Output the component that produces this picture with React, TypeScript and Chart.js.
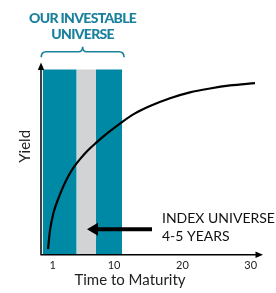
import React, { useEffect, useRef } from "react";
import { Chart, registerables } from "chart.js";

Chart.register(...registerables);

// ---- data ----
const maturityTicks = [1, 10, 20, 30];
const curveMaturity = [0.33, 0.62, 1.1, 1.94, 2.52, 3.25, 4.13, 5.01, 6.18, 7.35, 9.11, 11.11, 13.06, 15.26, 18.19, 21.11, 24.04, 26.97, 30.63];
const curveYield = [2.6, 11.3, 19.0, 26.7, 31.2, 36.0, 40.5, 44.1, 48.2, 51.6, 56.3, 61.1, 65.2, 68.6, 72.2, 74.9, 76.7, 78.1, 79.2];
const investableRange = [-0.45, 11.16];
const indexRange = [4.53, 7.35];
const bandHeight = [85.5];
const titleLines = ["OUR INVESTABLE", "UNIVERSE"];
const indexLabelLines = ["INDEX UNIVERSE", "4-5 YEARS"];
const arrowRange = [6.03, 15.55]; // x values (tip, tail)
const arrowLevel = [11.8];
const xAxisTitle = "Time to Maturity";
const yAxisTitle = "Yield";

const TEAL = "#0089A5";
const TEAL_TEXT = "#1A819C";
const GRAY = "#D1D3D4";
const FONT = "Lato, 'Open Sans', sans-serif";

const band = (x0: number, x1: number, h: number) => [
  { x: x0, y: h },
  { x: x1, y: h },
];

const decorPlugin = {
  id: "decor",
  afterDatasetsDraw(chart: any) {
    const { ctx, chartArea, scales } = chart;
    const xs = scales.x;
    const ys = scales.y;
    ctx.save();
    // axes
    ctx.strokeStyle = "#000";
    ctx.fillStyle = "#000";
    ctx.lineWidth = 1.5;
    const ax = chartArea.left;
    const ay = chartArea.bottom;
    const yTip = ys.getPixelForValue(88.7);
    const xTip = chartArea.right;
    ctx.beginPath();
    ctx.moveTo(ax, ay + 0.5);
    ctx.lineTo(ax, yTip + 5);
    ctx.moveTo(ax - 0.5, ay);
    ctx.lineTo(xTip - 5, ay);
    ctx.stroke();
    ctx.beginPath();
    ctx.moveTo(ax, yTip);
    ctx.lineTo(ax - 3.2, yTip + 7.5);
    ctx.lineTo(ax + 3.2, yTip + 7.5);
    ctx.closePath();
    ctx.fill();
    ctx.beginPath();
    ctx.moveTo(xTip, ay);
    ctx.lineTo(xTip - 7.5, ay - 3.2);
    ctx.lineTo(xTip - 7.5, ay + 3.2);
    ctx.closePath();
    ctx.fill();

    // x axis title
    ctx.font = `15px ${FONT}`;
    ctx.fillStyle = "#222";
    ctx.textAlign = "center";
    ctx.textBaseline = "middle";
    ctx.fillText(xAxisTitle, ax + 89, ay + 25);

    // left arrow
    const aTip = xs.getPixelForValue(arrowRange[0]);
    const aTail = xs.getPixelForValue(arrowRange[1]);
    const aY = ys.getPixelForValue(arrowLevel[0]);
    ctx.fillStyle = "#000";
    ctx.lineWidth = 4;
    ctx.beginPath();
    ctx.moveTo(aTip + 8, aY);
    ctx.lineTo(aTail, aY);
    ctx.stroke();
    ctx.beginPath();
    ctx.moveTo(aTip, aY);
    ctx.lineTo(aTip + 11, aY - 6.5);
    ctx.lineTo(aTip + 11, aY + 6.5);
    ctx.closePath();
    ctx.fill();

    // index label
    ctx.font = `14px ${FONT}`;
    ctx.textAlign = "left";
    ctx.textBaseline = "middle";
    ctx.fillStyle = "#111";
    const lx = aTail + 10;
    ctx.fillText(indexLabelLines[0], lx, aY - 11);
    ctx.fillText(indexLabelLines[1], lx, aY + 7);

    // brace
    const bx0 = xs.getPixelForValue(investableRange[0]) - 1.5;
    const bx1 = xs.getPixelForValue(investableRange[1]) + 2;
    const bm = (bx0 + bx1) / 2;
    const by = chartArea.top + 13.7;
    ctx.strokeStyle = TEAL_TEXT;
    ctx.lineWidth = 1.6;
    ctx.beginPath();
    ctx.moveTo(bx0, by + 5.5);
    ctx.quadraticCurveTo(bx0, by, bx0 + 5, by);
    ctx.lineTo(bm - 4, by);
    ctx.quadraticCurveTo(bm, by, bm, by - 5);
    ctx.quadraticCurveTo(bm, by, bm + 4, by);
    ctx.lineTo(bx1 - 5, by);
    ctx.quadraticCurveTo(bx1, by, bx1, by + 5.5);
    ctx.stroke();

    // title
    ctx.fillStyle = TEAL_TEXT;
    ctx.font = `900 14px ${FONT}`;
    ctx.textAlign = "center";
    (ctx as any).letterSpacing = "-0.7px";
    ctx.fillText(titleLines[0], bm, chartArea.top - 19.3);
    ctx.fillText(titleLines[1], bm, chartArea.top - 3.3);
    ctx.restore();
  },
};

export default function App() {
  const ref = useRef<HTMLCanvasElement | null>(null);
  useEffect(() => {
    if (!ref.current) return;
    const chart = new Chart(ref.current, {
      type: "line",
      data: {
        datasets: [
          {
            data: curveMaturity.map((m, i) => ({ x: m, y: curveYield[i] })),
            borderColor: "#000",
            borderWidth: 2.2,
            pointRadius: 0,
            cubicInterpolationMode: "monotone",
            fill: false,
            order: 0,
          },
          {
            data: band(indexRange[0], indexRange[1], bandHeight[0]),
            borderWidth: 0,
            pointRadius: 0,
            backgroundColor: GRAY,
            fill: "origin",
            order: 1,
          },
          {
            data: band(investableRange[0], indexRange[0], bandHeight[0]),
            borderWidth: 0,
            pointRadius: 0,
            backgroundColor: TEAL,
            fill: "origin",
            order: 2,
          },
          {
            data: band(indexRange[1], investableRange[1], bandHeight[0]),
            borderWidth: 0,
            pointRadius: 0,
            backgroundColor: TEAL,
            fill: "origin",
            order: 3,
          },
        ],
      },
      options: {
        responsive: false,
        animation: false,
        devicePixelRatio: 1,
        layout: { padding: { top: 38, right: 13, bottom: 16.5, left: 0 } },
        plugins: { legend: { display: false }, tooltip: { enabled: false } },
        scales: {
          x: {
            type: "linear",
            min: -0.7,
            max: 31.8,
            afterBuildTicks: (s: any) => {
              s.ticks = maturityTicks.map((v) => ({ value: v }));
            },
            grid: { display: false, drawTicks: false },
            border: { display: false },
            ticks: {
              padding: 4.3,
              color: "#222",
              font: { family: FONT, size: 11 },
              maxRotation: 0,
              autoSkip: false,
            },
            title: { display: false },
          },
          y: {
            type: "linear",
            min: 0,
            max: 100,
            grid: { display: false, drawTicks: false },
            border: { display: false },
            ticks: { display: false },
            title: {
              display: true,
              text: yAxisTitle,
              color: "#222",
              font: { family: FONT, size: 15, lineHeight: 1 },
              padding: { top: 17.5, bottom: 8.5 },
            },
          },
        },
      } as any,
      plugins: [decorPlugin],
    });
    return () => chart.destroy();
  }, []);
  return (
    <div style={{ position: "absolute", left: 0, top: 0, width: 276, height: 293, background: "#fff" }}>
      <canvas ref={ref} width={276} height={293} style={{ display: "block" }} />
    </div>
  );
}
